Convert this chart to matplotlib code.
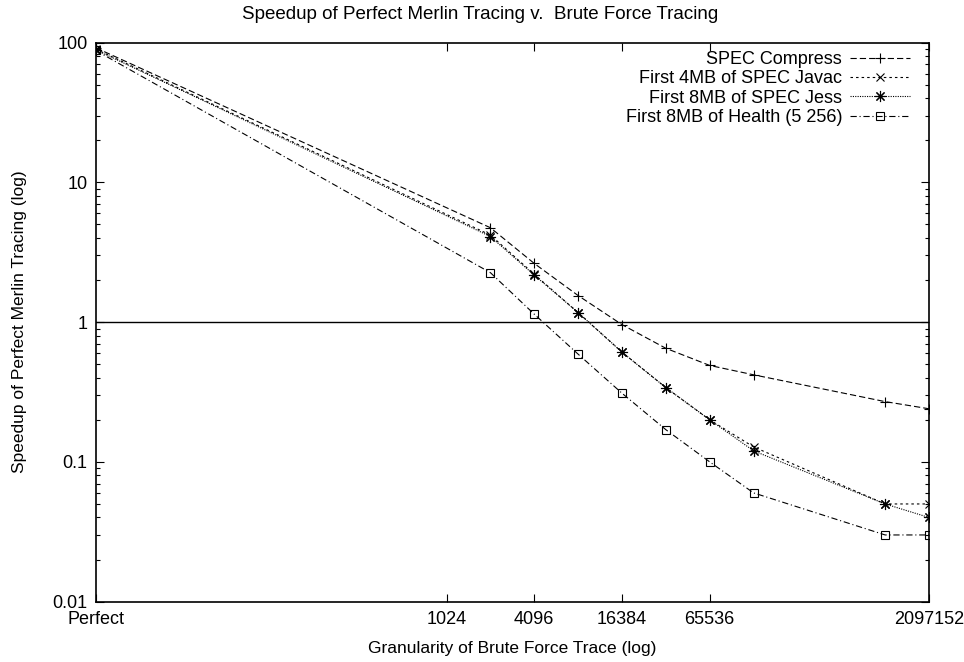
import matplotlib
matplotlib.use("Agg")
import matplotlib.pyplot as plt
from matplotlib.ticker import FixedLocator, FixedFormatter, LogLocator, NullLocator, NullFormatter

# --- dati ---
granularity = [4, 2048, 4096, 8192, 16384, 32768, 65536, 131072, 1048576, 2097152]
compress = [92, 4.74, 2.63, 1.55, 0.96, 0.65, 0.49, 0.42, 0.27, 0.24]
javac = [90, 4.2, 2.2, 1.17, 0.61, 0.34, 0.2, 0.128, 0.05, 0.05]
jess = [89, 4.1, 2.17, 1.17, 0.61, 0.34, 0.2, 0.12, 0.05, 0.04]
health = [88, 2.26, 1.14, 0.59, 0.31, 0.17, 0.1, 0.06, 0.03, 0.03]

x_ticks = [4, 1024, 4096, 16384, 65536, 2097152]
x_tick_labels = ["Perfect", "1024", "4096", "16384", "65536", "2097152"]
y_ticks = [0.01, 0.1, 1, 10, 100]
y_tick_labels = ["0.01", "0.1", "1", "10", "100"]

plt.rcParams["font.family"] = ["Liberation Sans", "DejaVu Sans"]
plt.rcParams["font.size"] = 13
plt.rcParams["lines.scale_dashes"] = False

fig = plt.figure(figsize=(9.64, 6.62), dpi=100)
ax = fig.add_axes([0.0993, 0.0912, 0.8644, 0.8443])

lw = 0.8
ax.plot(granularity, compress, color="black", lw=lw, linestyle=(0, (4.5, 2.2)),
        marker="+", markersize=7, markeredgewidth=0.8, label="SPEC Compress")
ax.plot(granularity, javac, color="black", lw=lw, linestyle=(0, (1.8, 2.2)),
        marker="x", markersize=6, markeredgewidth=0.8, label="First 4MB of SPEC Javac")
ax.plot(granularity, jess, color="black", lw=lw, linestyle=(0, (0.8, 0.9)),
        marker=(8, 2, 0), markersize=8, markeredgewidth=0.8, label="First 8MB of SPEC Jess")
ax.plot(granularity, health, color="black", lw=lw, linestyle=(0, (4.5, 2, 0.8, 2)),
        marker="s", markersize=6, markeredgewidth=0.8, fillstyle="none",
        label="First 8MB of Health (5 256)")

ax.axhline(1, color="black", lw=1.0)

ax.set_xscale("log", base=2)
ax.set_yscale("log")
ax.set_xlim(4, 2097152)
ax.set_ylim(0.01, 100)

ax.xaxis.set_major_locator(FixedLocator(x_ticks))
ax.xaxis.set_major_formatter(FixedFormatter(x_tick_labels))
ax.xaxis.set_minor_locator(NullLocator())
ax.yaxis.set_major_locator(FixedLocator(y_ticks))
ax.yaxis.set_major_formatter(FixedFormatter(y_tick_labels))
ax.yaxis.set_minor_locator(LogLocator(base=10, subs=range(2, 10)))
ax.yaxis.set_minor_formatter(NullFormatter())

ax.tick_params(which="both", direction="in", top=True, right=True, width=0.8)
ax.tick_params(which="major", length=5.5)
ax.tick_params(which="minor", length=3)
ax.tick_params(axis="x", pad=7)
ax.tick_params(axis="y", pad=6)
for s in ax.spines.values():
    s.set_linewidth(1.2)

ax.set_xlabel("Granularity of Brute Force Trace (log)", labelpad=9, fontsize=12.5)
ax.set_ylabel("Speedup of Perfect Merlin Tracing (log)", labelpad=18, fontsize=12.5)
fig.text(0.498, 0.978, "Speedup of Perfect Merlin Tracing v.  Brute Force Tracing",
         ha="center", va="center", fontsize=13.5)

leg = ax.legend(loc="upper right", bbox_to_anchor=(0.977, 0.985), frameon=False,
                markerfirst=False, handlelength=3.3, handletextpad=0.45,
                labelspacing=0.125, borderaxespad=0, borderpad=0)
# testo allineato a destra come in gnuplot
for col in leg._legend_handle_box.get_children():
    col.align = "right"

fig.savefig("out.png", dpi=100)
